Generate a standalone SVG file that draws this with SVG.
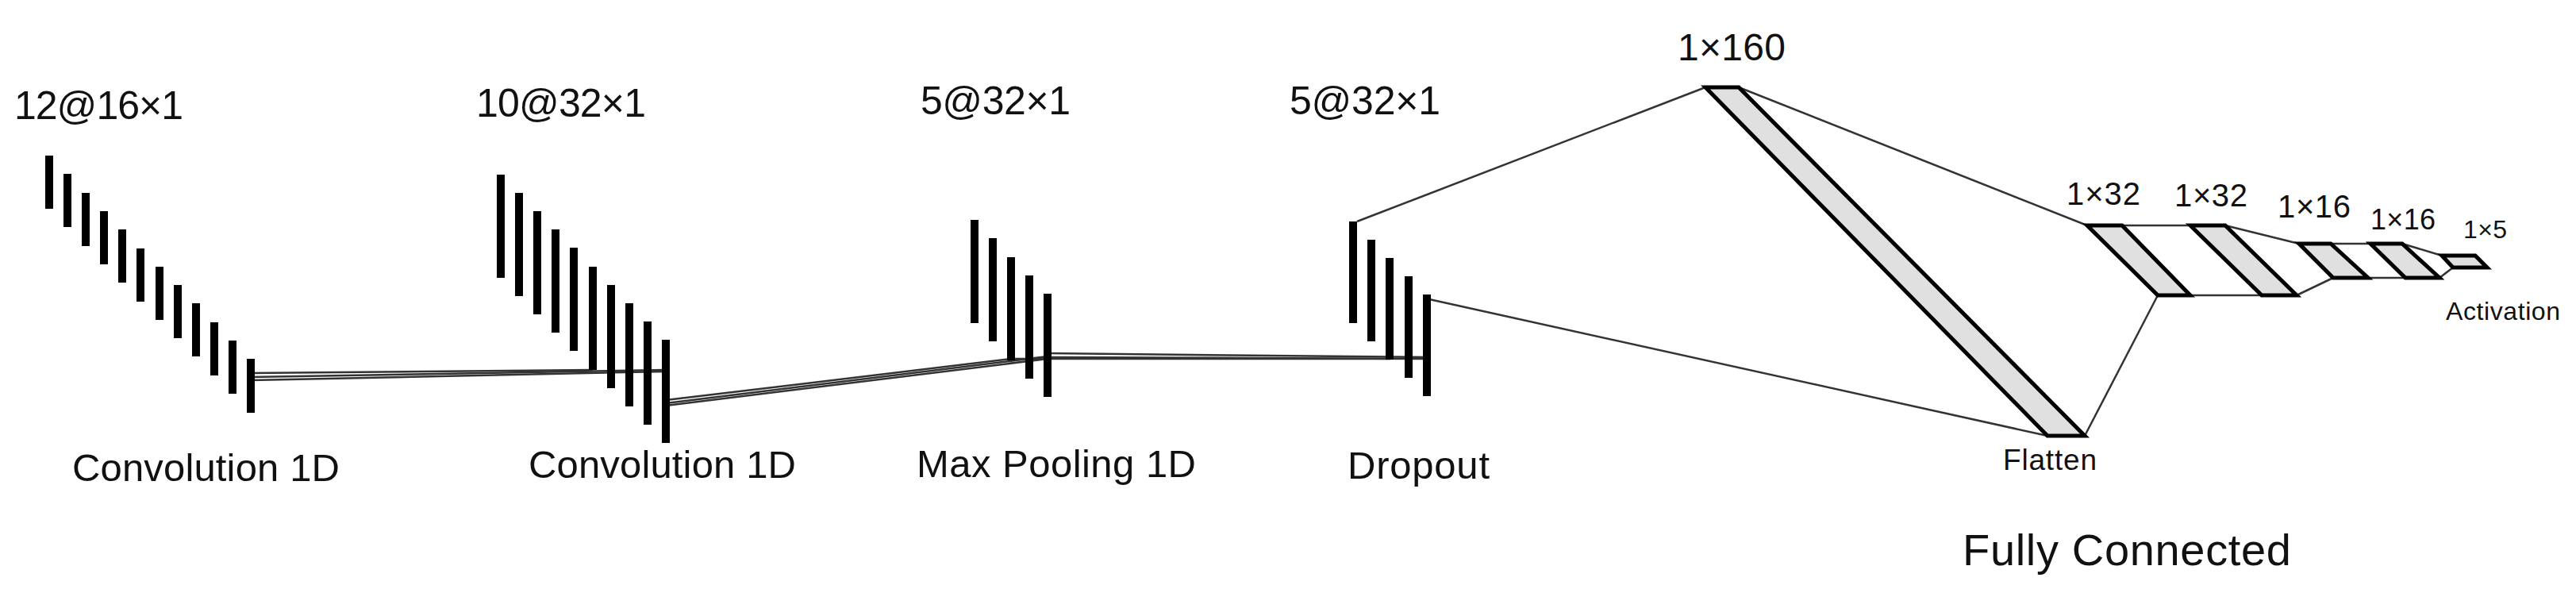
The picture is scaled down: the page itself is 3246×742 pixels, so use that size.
<svg xmlns="http://www.w3.org/2000/svg" width="3246" height="742" viewBox="0 0 3246 742">
<style>
text{font-family:"Liberation Sans",Arial,sans-serif;fill:#111}
.bar{fill:#000}
.ln{stroke:#333;stroke-width:2.5;fill:none}
.pg{fill:#e0e0e0;stroke:#000;stroke-width:5;stroke-linejoin:miter}
</style>
<rect width="3246" height="742" fill="#fff"/>
<g id="connectors">
<line class="ln" x1="316" y1="470" x2="747" y2="466"/>
<line class="ln" x1="316" y1="475" x2="839" y2="466"/>
<line class="ln" x1="316" y1="479" x2="839" y2="468"/>
<line class="ln" x1="839" y1="504" x2="1275" y2="452"/>
<line class="ln" x1="839" y1="508" x2="1320" y2="449"/>
<line class="ln" x1="839" y1="511" x2="1320" y2="452"/>
<line class="ln" x1="1275" y1="452" x2="1752" y2="452"/>
<line class="ln" x1="1320" y1="445" x2="1798" y2="450"/>
<line class="ln" x1="1320" y1="450" x2="1798" y2="452"/>
<line class="ln" x1="1710" y1="279" x2="2149" y2="110"/>
<line class="ln" x1="1801" y1="377" x2="2580" y2="549"/>
<line class="ln" x1="2191" y1="110" x2="2630" y2="284"/>
<line class="ln" x1="2627" y1="549" x2="2719" y2="372"/>
<line class="ln" x1="2674" y1="284" x2="2760" y2="284"/>
<line class="ln" x1="2760" y1="372" x2="2850" y2="372"/>
<line class="ln" x1="2804" y1="284" x2="2897" y2="307"/>
<line class="ln" x1="2894" y1="372" x2="2940" y2="350"/>
<line class="ln" x1="2937" y1="307" x2="2987" y2="307"/>
<line class="ln" x1="2984" y1="350" x2="3031" y2="350"/>
<line class="ln" x1="3027" y1="307" x2="3077" y2="322"/>
<line class="ln" x1="3074" y1="350" x2="3091" y2="337"/>
</g>
<g id="conv1">
<rect class="bar" x="57" y="196" width="10" height="67"/>
<rect class="bar" x="80" y="219" width="10" height="67"/>
<rect class="bar" x="103" y="243" width="10" height="67"/>
<rect class="bar" x="126" y="266" width="10" height="67"/>
<rect class="bar" x="149" y="289" width="10" height="67"/>
<rect class="bar" x="172" y="313" width="10" height="67"/>
<rect class="bar" x="196" y="336" width="10" height="67"/>
<rect class="bar" x="219" y="359" width="10" height="67"/>
<rect class="bar" x="242" y="382" width="10" height="67"/>
<rect class="bar" x="265" y="406" width="10" height="67"/>
<rect class="bar" x="288" y="429" width="10" height="67"/>
<rect class="bar" x="311" y="452" width="10" height="68"/>
<text x="18" y="150" font-size="50" textLength="213">12@16×1</text>
<text x="91" y="606" font-size="49" textLength="337">Convolution 1D</text>
</g>
<g id="conv2">
<rect class="bar" x="626" y="220" width="10" height="130"/>
<rect class="bar" x="649" y="243" width="10" height="130"/>
<rect class="bar" x="672" y="266" width="10" height="130"/>
<rect class="bar" x="695" y="289" width="10" height="130"/>
<rect class="bar" x="718" y="312" width="10" height="130"/>
<rect class="bar" x="742" y="336" width="10" height="130"/>
<rect class="bar" x="765" y="359" width="10" height="130"/>
<rect class="bar" x="788" y="382" width="10" height="130"/>
<rect class="bar" x="811" y="405" width="10" height="130"/>
<rect class="bar" x="834" y="428" width="10" height="130"/>
<text x="600" y="147" font-size="50" textLength="214">10@32×1</text>
<text x="666" y="602" font-size="49" textLength="337">Convolution 1D</text>
</g>
<g id="maxpool">
<rect class="bar" x="1223" y="277" width="10" height="130"/>
<rect class="bar" x="1246" y="300" width="10" height="130"/>
<rect class="bar" x="1269" y="324" width="10" height="130"/>
<rect class="bar" x="1292" y="347" width="10" height="130"/>
<rect class="bar" x="1315" y="370" width="10" height="130"/>
<text x="1160" y="144" font-size="50" textLength="189">5@32×1</text>
<text x="1155" y="601" font-size="49" textLength="352">Max Pooling 1D</text>
</g>
<g id="dropout">
<rect class="bar" x="1700" y="279" width="10" height="128"/>
<rect class="bar" x="1723" y="302" width="10" height="128"/>
<rect class="bar" x="1746" y="325" width="10" height="128"/>
<rect class="bar" x="1770" y="348" width="10" height="128"/>
<rect class="bar" x="1793" y="371" width="10" height="128"/>
<text x="1625" y="144" font-size="50" textLength="190">5@32×1</text>
<text x="1698" y="603" font-size="49" textLength="179">Dropout</text>
</g>
<g id="flatten">
<polygon class="pg" points="2149,110 2191,110 2627,549 2580,549"/>
<text x="2114" y="76" font-size="48" textLength="136">1×160</text>
<text x="2524" y="592" font-size="37" textLength="118">Flatten</text>
</g>
<g id="fc1">
<polygon class="pg" points="2630,284 2674,284 2760,372 2719,372"/>
<text x="2604" y="258" font-size="40" textLength="93">1×32</text>
</g>
<g id="fc2">
<polygon class="pg" points="2760,284 2804,284 2894,372 2850,372"/>
<text x="2740" y="260" font-size="40" textLength="92">1×32</text>
</g>
<g id="fc3">
<polygon class="pg" points="2897,307 2937,307 2984,350 2940,350"/>
<text x="2870" y="274" font-size="40" textLength="92">1×16</text>
</g>
<g id="fc4">
<polygon class="pg" points="2987,307 3027,307 3074,350 3031,350"/>
<text x="2987" y="289" font-size="36" textLength="82">1×16</text>
</g>
<g id="fc5">
<polygon class="pg" points="3077,322 3119,322 3134,337 3091,337"/>
<text x="3104" y="300" font-size="32" textLength="55">1×5</text>
<text x="3082" y="403" font-size="32" textLength="144">Activation</text>
</g>
<g id="fully-connected-label">
<text x="2473" y="712" font-size="56" textLength="414">Fully Connected</text>
</g>
</svg>
